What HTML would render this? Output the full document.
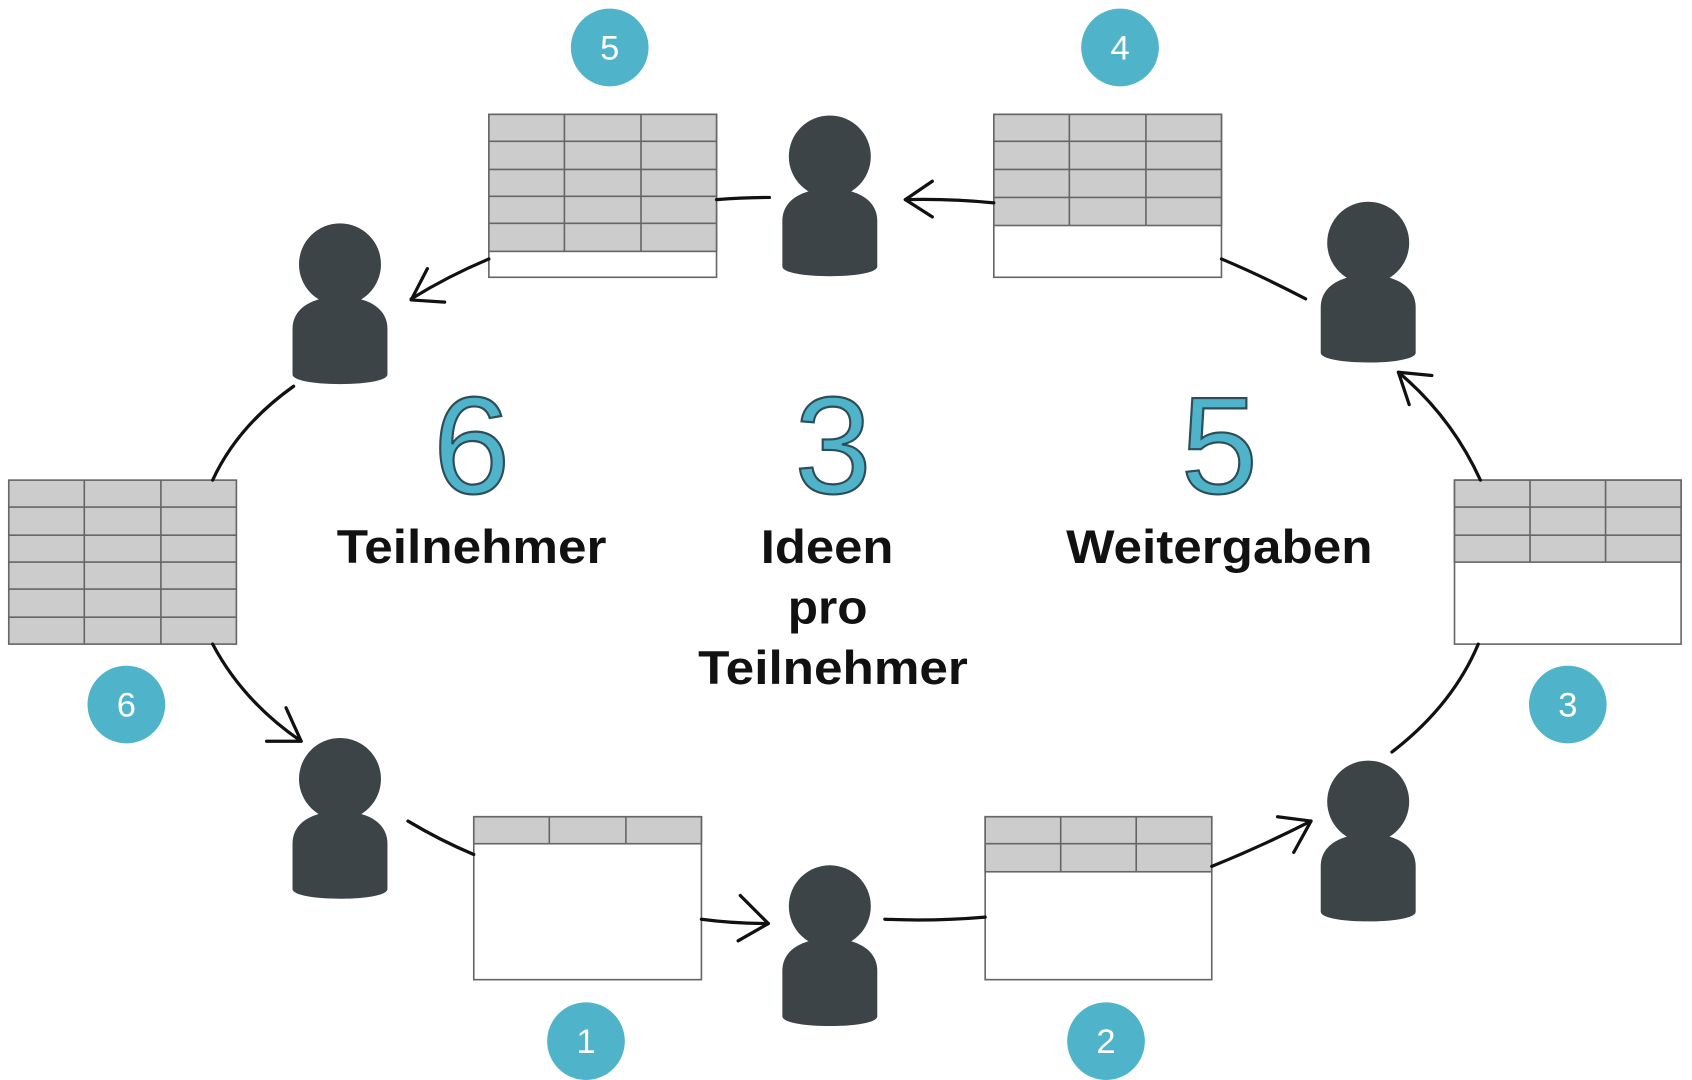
<!DOCTYPE html>
<html><head><meta charset="utf-8"><style>html,body{margin:0;padding:0;background:#fff}svg{display:block}</style></head>
<body>
<svg width="1692" height="1080" viewBox="0 0 1568 1001" xmlns="http://www.w3.org/2000/svg" font-family="Liberation Sans, sans-serif">
<defs>
<g id="p">
<circle cx="0" cy="0" r="38" fill="#3d4448"/>
<path d="M-44,102 L-44,60 C-44,40 -25,30 0,30 C25,30 44,40 44,60 L44,102 C44,114 -44,114 -44,102 Z" fill="#3d4448"/>
</g>
</defs>
<g fill="#4fb3c9">
<circle cx="565" cy="44" r="36"/><circle cx="1038" cy="44" r="36"/>
<circle cx="117" cy="653" r="36"/><circle cx="1453" cy="653" r="36"/>
<circle cx="543" cy="965" r="36"/><circle cx="1025" cy="965" r="36"/>
</g>
<g fill="#fff" font-size="32" text-anchor="middle">
<text x="565" y="55">5</text><text x="1038" y="55">4</text>
<text x="117" y="664">6</text><text x="1453" y="664">3</text>
<text x="543" y="976">1</text><text x="1025" y="976">2</text>
</g>
<g stroke="#666" stroke-width="1.5">
<rect x="453" y="106" width="211" height="151" fill="#fff"/>
<rect x="453" y="106" width="211" height="127" fill="#ccc"/>
<path d="M453,131H664M453,157H664M453,182H664M453,207H664M523,106V233M594,106V233"/>
<rect x="921" y="106" width="211" height="151" fill="#fff"/>
<rect x="921" y="106" width="211" height="103" fill="#ccc"/>
<path d="M921,131H1132M921,157H1132M921,183H1132M991,106V209M1062,106V209"/>
<rect x="8" y="445" width="211" height="152" fill="#ccc"/>
<path d="M8,470H219M8,496H219M8,521H219M8,546H219M8,572H219M78,445V597M149,445V597"/>
<rect x="1348" y="445" width="210" height="152" fill="#fff"/>
<rect x="1348" y="445" width="210" height="76" fill="#ccc"/>
<path d="M1348,470H1558M1348,496H1558M1418,445V521M1488,445V521"/>
<rect x="439" y="757" width="211" height="151" fill="#fff"/>
<rect x="439" y="757" width="211" height="25" fill="#ccc"/>
<path d="M509,757V782M580,757V782"/>
<rect x="913" y="757" width="210" height="151" fill="#fff"/>
<rect x="913" y="757" width="210" height="51" fill="#ccc"/>
<path d="M913,782H1123M983,757V808M1053,757V808"/>
</g>
<use href="#p" x="769" y="145"/>
<use href="#p" x="315" y="245"/>
<use href="#p" x="1268" y="225"/>
<use href="#p" x="315" y="722"/>
<use href="#p" x="1268" y="743"/>
<use href="#p" x="769" y="840"/>
<g stroke="#111" stroke-width="3" fill="none" stroke-linecap="round" stroke-linejoin="round">
<path d="M453,240 Q415,256 381,277"/><path d="M396,249 L381,278 L412,280"/>
<path d="M664,185 Q690,183 713,183"/>
<path d="M921,188 Q880,184 839,185"/><path d="M864,168 L839,185 L864,201"/>
<path d="M1210,277 Q1170,256 1132,240"/>
<path d="M1372,445 Q1345,386 1296,345"/><path d="M1327,348 L1296,345 L1306,375"/>
<path d="M1290,697 Q1346,654 1370,597"/>
<path d="M1123,803 Q1170,784 1215,761"/><path d="M1184,757 L1215,761 L1199,790"/>
<path d="M820,852 Q866,854 913,850"/>
<path d="M650,852 Q680,856 712,856"/><path d="M686,830 L712,856 L684,872"/>
<path d="M378,761 Q408,779 439,792"/>
<path d="M197,597 Q225,650 279,687"/><path d="M265,656 L279,687 L247,687"/>
<path d="M272,358 Q220,395 197,445"/>
</g>
<g fill="#4fb3c9" stroke="#2d4d58" stroke-width="2" font-size="128" text-anchor="middle">
<text x="437" y="457">6</text><text x="772" y="457">3</text><text x="1130" y="457">5</text>
</g>
<g fill="#111" font-size="44" font-weight="bold">
<text x="312" y="522" textLength="250" lengthAdjust="spacingAndGlyphs">Teilnehmer</text>
<text x="705" y="522" textLength="123" lengthAdjust="spacingAndGlyphs">Ideen</text>
<text x="730" y="578" textLength="74" lengthAdjust="spacingAndGlyphs">pro</text>
<text x="647" y="634" textLength="250" lengthAdjust="spacingAndGlyphs">Teilnehmer</text>
<text x="988" y="522" textLength="284" lengthAdjust="spacingAndGlyphs">Weitergaben</text>
</g>
</svg>
</body></html>
